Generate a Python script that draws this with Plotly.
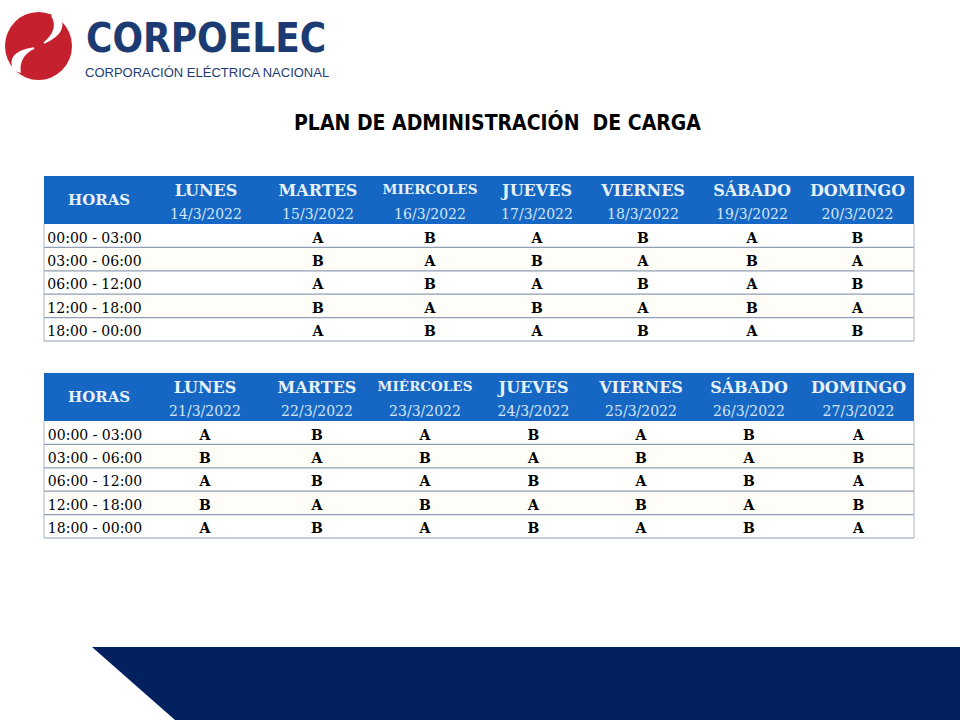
import plotly.graph_objects as go

# ---------------- data ----------------
HOURS = ["00:00 - 03:00", "03:00 - 06:00", "06:00 - 12:00", "12:00 - 18:00", "18:00 - 00:00"]

DAYS_1 = ["LUNES", "MARTES", "MIERCOLES", "JUEVES", "VIERNES", "SÁBADO", "DOMINGO"]
DATES_1 = ["14/3/2022", "15/3/2022", "16/3/2022", "17/3/2022", "18/3/2022", "19/3/2022", "20/3/2022"]
W1_00_03 = ["", "A", "B", "A", "B", "A", "B"]
W1_03_06 = ["", "B", "A", "B", "A", "B", "A"]
W1_06_12 = ["", "A", "B", "A", "B", "A", "B"]
W1_12_18 = ["", "B", "A", "B", "A", "B", "A"]
W1_18_00 = ["", "A", "B", "A", "B", "A", "B"]

DAYS_2 = ["LUNES", "MARTES", "MIÉRCOLES", "JUEVES", "VIERNES", "SÁBADO", "DOMINGO"]
DATES_2 = ["21/3/2022", "22/3/2022", "23/3/2022", "24/3/2022", "25/3/2022", "26/3/2022", "27/3/2022"]
W2_00_03 = ["A", "B", "A", "B", "A", "B", "A"]
W2_03_06 = ["B", "A", "B", "A", "B", "A", "B"]
W2_06_12 = ["A", "B", "A", "B", "A", "B", "A"]
W2_12_18 = ["B", "A", "B", "A", "B", "A", "B"]
W2_18_00 = ["A", "B", "A", "B", "A", "B", "A"]

# ---------------- styling / layout ----------------
W, H = 960, 720
BLUE = "#1667c3"
HEAD_TXT = "#e6f1fb"
DATE_TXT = "#d3e6f7"
NAVY = "#1d3b73"
SEP = "#8f9eb4"
SERIF = "DejaVu Serif"
COND = "DejaVu Sans Condensed, Liberation Sans Narrow, Liberation Sans"
HEAD_H = 24
ROW_H = 23.4
NB = "\u00a0"


def fx(x):
    return x / W


def fy(y):
    return 1 - y / H


fig = go.Figure()


def add_week(top, bounds, days, dates, rows):
    left, right = bounds[0], bounds[-1]
    widths = [b - a for a, b in zip(bounds[:-1], bounds[1:])]
    nrows = len(rows)
    ncol = len(days) + 1
    bottom = top + 2 * HEAD_H + nrows * ROW_H
    dom_x = [fx(left), fx(right)]
    # header row 1: day names (bold); slightly overlapped by the next table to avoid a seam
    day_sizes = [15] + [13.5 if d.upper().startswith("MI") else 16 for d in days]
    fig.add_trace(go.Table(
        domain=dict(x=dom_x, y=[fy(top + HEAD_H + 4), fy(top)]),
        columnwidth=widths,
        header=dict(values=[""] + list(days), fill_color=BLUE, height=HEAD_H,
                    line=dict(width=0, color=BLUE), align="center",
                    font=dict(family=SERIF, size=day_sizes, color=HEAD_TXT, weight="bold")),
        cells=dict(values=[[""] for _ in range(ncol)], height=HEAD_H, fill_color=BLUE,
                   line=dict(width=0, color=BLUE), font=dict(family=SERIF, size=10, color=BLUE)),
    ))
    # header row 2 (dates) + data rows
    cols = [[h.replace(" ", NB) for h in HOURS]] + [[r[i] for r in rows] for i in range(len(days))]
    row_fill = [["#ffffff" if k % 2 == 0 else "#fefdf8" for k in range(nrows)]]
    fig.add_trace(go.Table(
        domain=dict(x=dom_x, y=[fy(bottom), fy(top + HEAD_H)]),
        columnwidth=widths,
        header=dict(values=[""] + list(dates), fill_color=BLUE, height=HEAD_H,
                    line=dict(width=0, color=BLUE), align="center",
                    font=dict(family=SERIF, size=14, color=DATE_TXT)),
        cells=dict(values=cols, fill_color=row_fill, height=ROW_H,
                   line=dict(width=0, color="#ffffff"), align="center",
                   font=dict(family=SERIF, size=14, color="#000000",
                             weight=["normal"] + ["bold"] * len(days))),
    ))
    # merged HORAS header label
    fig.add_annotation(x=fx((left + bounds[1]) / 2 + 4), y=fy(top + HEAD_H), xref="paper", yref="paper",
                       text="<b>HORAS</b>", showarrow=False, xanchor="center", yanchor="middle",
                       bgcolor=BLUE, borderpad=1,
                       font=dict(family=SERIF, size=15, color=HEAD_TXT))
    # horizontal row separators and outer borders
    dtop = top + 2 * HEAD_H
    for k in range(1, nrows + 1):
        yy = dtop + k * ROW_H
        fig.add_shape(type="line", xref="paper", yref="paper", x0=fx(left), x1=fx(right),
                      y0=fy(yy), y1=fy(yy), line=dict(color=SEP, width=1.2))
    for xx in (left, right):
        fig.add_shape(type="line", xref="paper", yref="paper", x0=fx(xx), x1=fx(xx),
                      y0=fy(dtop), y1=fy(bottom), line=dict(color="#a9b5c6", width=1))


add_week(176, [44, 145, 267, 369, 491, 583, 703, 801, 914], DAYS_1, DATES_1,
         [W1_00_03, W1_03_06, W1_06_12, W1_12_18, W1_18_00])
add_week(373, [44, 146, 264, 370, 480, 587, 695, 803, 914], DAYS_2, DATES_2,
         [W2_00_03, W2_03_06, W2_06_12, W2_12_18, W2_18_00])


# ---------------- logo ----------------
def pth(points):
    s = ""
    for cmd, pts in points:
        if cmd == "Z":
            s += "Z"
        else:
            s += cmd + " " + " ".join("%f,%f" % (fx(a), fy(b)) for a, b in pts) + " "
    return s


fig.add_shape(type="circle", xref="paper", yref="paper",
              x0=fx(5), x1=fx(72), y0=fy(80), y1=fy(12),
              fillcolor="#c4202e", line=dict(width=0))
fig.add_shape(type="path", xref="paper", yref="paper",
              path=pth([("M", [(58, 13)]), ("Q", [(70, 32), (44, 43)]),
                        ("Q", [(60, 30), (52, 16)]), ("Z", [])]),
              fillcolor="#ffffff", line=dict(color="#ffffff", width=1.5))
fig.add_shape(type="path", xref="paper", yref="paper",
              path=pth([("M", [(14, 70)]), ("Q", [(6, 52), (34, 48)]),
                        ("Q", [(18, 56), (20, 72)]), ("Z", [])]),
              fillcolor="#ffffff", line=dict(color="#ffffff", width=1.5))

fig.add_annotation(x=fx(84), y=fy(38), xref="paper", yref="paper", text="<b>CORPOELEC</b>",
                   showarrow=False, xanchor="left", yanchor="middle",
                   font=dict(family=COND, size=40, color=NAVY))
fig.add_annotation(x=fx(83), y=fy(73), xref="paper", yref="paper", text="CORPORACIÓN ELÉCTRICA NACIONAL",
                   showarrow=False, xanchor="left", yanchor="middle",
                   font=dict(family="Liberation Sans", size=13, color=NAVY))

# ---------------- title ----------------
fig.add_annotation(x=fx(497), y=fy(122), xref="paper", yref="paper",
                   text="<b>PLAN DE ADMINISTRACIÓN" + NB + " DE CARGA</b>",
                   showarrow=False, xanchor="center", yanchor="middle",
                   font=dict(family=COND, size=21, color="#000000"))

# ---------------- bottom band ----------------
fig.add_shape(type="path", xref="paper", yref="paper",
              path=pth([("M", [(92, 647)]), ("L", [(960, 647)]), ("L", [(960, 720)]),
                        ("L", [(175, 720)]), ("Z", [])]),
              fillcolor="#03215f", line=dict(width=0))

fig.update_layout(width=W, height=H, margin=dict(l=0, r=0, t=0, b=0),
                  paper_bgcolor="#ffffff", plot_bgcolor="#ffffff", showlegend=False)

fig.write_html("out.html", config={"displayModeBar": False},
               post_script="document.body.style.margin='0px';")
